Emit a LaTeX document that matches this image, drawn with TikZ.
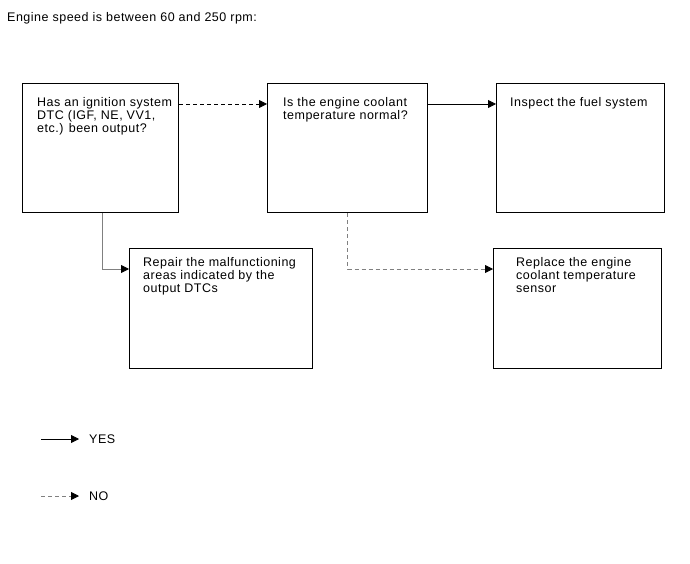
\documentclass[tikz,border=0pt]{standalone}
\usepackage{fontspec}
\setmainfont[LetterSpace=4]{Liberation Sans}
\usetikzlibrary{arrows.meta}
\begin{document}
\begin{tikzpicture}[x=1pt,y=-1pt,>={Triangle[length=8pt,width=8pt,color=black]},
  font=\fontsize{12.5}{13}\selectfont,
  box/.style={draw,line width=1pt,anchor=north west,inner sep=0pt,minimum height=129pt},
  txt/.style={anchor=north west,align=left,inner sep=0pt},
  keytxt/.style={anchor=west,inner xsep=10pt,inner ysep=0pt},
  yesline/.style={->,line width=0.8pt},
  noline/.style={->,line width=0.8pt,dash pattern=on 4pt off 3pt}]
\useasboundingbox (0,0) rectangle (690,564);

\node[anchor=base west,inner sep=0pt] (head) at (7,22) {Engine speed is between 60 and 250 rpm:};

% boxes
\node[box,minimum width=156pt] (ign) at (22,83) {};
\node[box,minimum width=160pt] (cool) at (267,83) {};
\node[box,minimum width=168pt] (fuel) at (496,83) {};
\node[box,minimum width=183pt,minimum height=120pt] (repair) at (129,248) {};
\node[box,minimum width=168pt,minimum height=120pt] (replace) at (493,248) {};

% texts
\node[txt] (igntxt) at ([xshift=15pt,yshift=-14pt]ign.north west) {Has an ignition system\\DTC (IGF, NE, VV1,\\etc.) been output?};
\node[txt] (cooltxt) at ([xshift=16pt,yshift=-14pt]cool.north west) {Is the engine coolant\\temperature normal?};
\node[txt] (fueltxt) at ([xshift=14pt,yshift=-14pt]fuel.north west) {Inspect the fuel system};
\node[txt] (repairtxt) at ([xshift=14pt,yshift=-9pt]repair.north west) {Repair the malfunctioning\\areas indicated by the\\output DTCs};
\node[txt] (replacetxt) at ([xshift=23pt,yshift=-9pt]replace.north west) {Replace the engine\\coolant temperature\\sensor};

% connectors
\draw[noline] ([yshift=-21pt]ign.north east) -- ([yshift=-21pt]cool.north west);
\draw[yesline] ([yshift=-21pt]cool.north east) -- ([yshift=-21pt]fuel.north west);
\draw[yesline,gray] ([xshift=2pt]ign.south) |- ([yshift=-21pt]repair.north west);
\draw[noline,gray] (cool.south) |- ([yshift=-21pt]replace.north west);

% key
\coordinate (yesfrom) at (41,439);
\node[keytxt] (yes) at (79,439) {YES};
\draw[yesline] (yesfrom) -- (yes.west);
\coordinate (nofrom) at (41,496);
\node[keytxt] (no) at (79,496) {NO};
\draw[noline,gray] (nofrom) -- (no.west);

\end{tikzpicture}
\end{document}
